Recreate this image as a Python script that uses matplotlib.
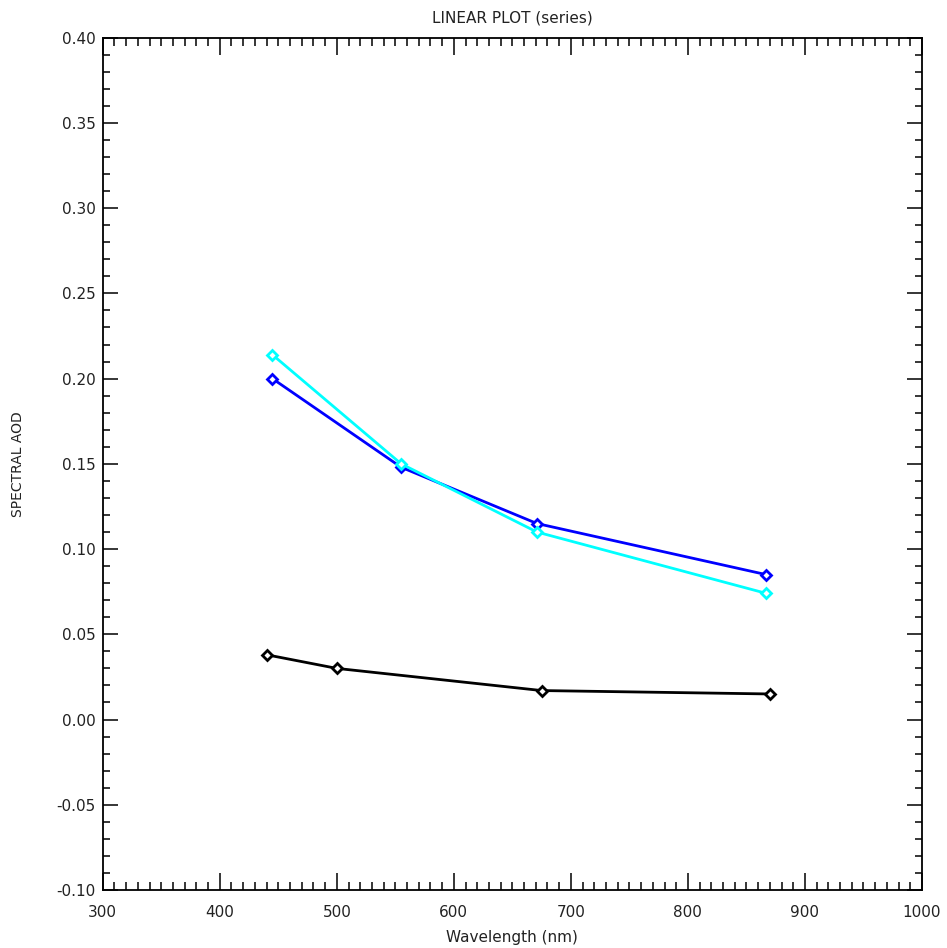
import matplotlib
matplotlib.use("Agg")
import matplotlib.pyplot as plt
from matplotlib.ticker import MultipleLocator, FormatStrFormatter

# Spectral AOD for three instruments
wl_sat = [445, 555, 671, 867]
aod_blue = [0.200, 0.148, 0.115, 0.085]
aod_cyan = [0.214, 0.150, 0.110, 0.074]

wl_sun = [440, 500, 675, 870]
aod_black = [0.038, 0.030, 0.017, 0.015]

x_ticks = [300, 400, 500, 600, 700, 800, 900, 1000]

plt.rcParams['font.family'] = ['DejaVu Sans']

fig = plt.figure(figsize=(9.47, 9.48), dpi=100)
ax = fig.add_axes([0.1085, 0.0612, 0.9736 - 0.1085, 0.9602 - 0.0612])

mk = dict(marker='D', markersize=5.5, markerfacecolor='white', markeredgewidth=2.0)
ax.plot(wl_sun, aod_black, color='black', lw=2.0, markeredgecolor='black', **mk)
ax.plot(wl_sat, aod_blue, color='#0000ff', lw=2.0, markeredgecolor='#0000ff', **mk)
ax.plot(wl_sat, aod_cyan, color='#00ffff', lw=2.0, markeredgecolor='#00ffff', **mk)

ax.set_xlim(300, 1000)
ax.set_ylim(-0.10, 0.40)
ax.set_xticks(x_ticks)
ax.xaxis.set_minor_locator(MultipleLocator(10))
ax.yaxis.set_major_locator(MultipleLocator(0.05))
ax.yaxis.set_minor_locator(MultipleLocator(0.01))
ax.yaxis.set_major_formatter(FormatStrFormatter('%.2f'))

for s in ax.spines.values():
    s.set_linewidth(1.3)

txt = '#222222'
ax.tick_params(axis='x', which='major', direction='in', length=12, width=1.1,
               top=True, bottom=True, labelsize=11, pad=11, labelcolor=txt)
ax.tick_params(axis='x', which='minor', direction='in', length=6, width=1.1,
               top=True, bottom=True)
ax.tick_params(axis='y', which='major', direction='in', length=11, width=1.1,
               left=True, right=True, labelsize=11, pad=5, labelcolor=txt)
ax.tick_params(axis='y', which='minor', direction='in', length=5, width=1.1,
               left=True, right=True)

ax.set_title('LINEAR PLOT (series)', fontsize=11, pad=11, color=txt)
ax.set_xlabel('Wavelength (nm)', fontsize=11, labelpad=7, color=txt)
ax.set_ylabel('SPECTRAL AOD', fontsize=10, labelpad=23, color=txt)

fig.savefig('out.png', dpi=100)
